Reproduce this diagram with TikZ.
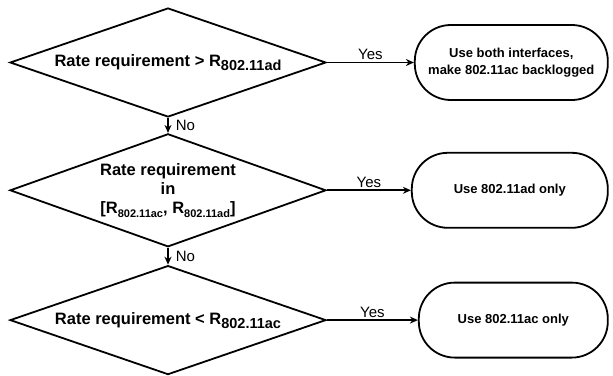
\documentclass[tikz,border=0pt]{standalone}
\usepackage{fontspec}
\setmainfont{Liberation Sans}
\usetikzlibrary{shapes.geometric,arrows.meta,positioning}

\newcommand{\rsub}[2][14.5]{R\raisebox{-4pt}{\fontsize{#1}{#1}\selectfont #2}}

\begin{document}
\begin{tikzpicture} [
        x = 1pt, y = 1pt,
        line width = 1.8pt,
        > = {Stealth[length = 8pt, width = 7pt]},
        decision/.style = { draw, diamond, aspect = 2.9, inner sep = 0, minimum width = 316pt, minimum height = 109pt, align = center, font = \fontsize{16.5}{19}\selectfont\bfseries },
        outcome/.style = { draw, rounded corners = 36pt, minimum width = 193pt, minimum height = 75pt, align = center, font = \fontsize{13}{17}\selectfont\bfseries },
        answer/.style = { font = \fontsize{15}{15}\selectfont, inner sep = 2pt }
        ]
        \useasboundingbox (0,0) rectangle (613,-375);
        
        \node [decision] (rate1) at (168,-62.5) {Rate requirement > \rsub{802.11ad}};
        \node [decision, minimum height = 113pt, below = 15pt of rate1] (rate2) {Rate requirement\\ in\\ {[}\rsub[11]{802.11ac}, \rsub[11]{802.11ad}{]}};
        \node [decision, below = 17pt of rate2] (rate3) {Rate requirement < \rsub{802.11ac}};
        
        \node [outcome, right = 87pt of rate1] (both) {Use both interfaces,\\ make 802.11ac backlogged};
        \node [outcome, minimum width = 196pt, right = 84pt of rate2] (adonly) {Use 802.11ad only};
        \node [outcome, minimum width = 189pt, right = 91pt of rate3] (aconly) {Use 802.11ac only};
        
        \draw [->] (rate1.south) -- node [answer, right = 5pt] {No} (rate2.north);
        \draw [->] (rate2.south) -- node [answer, right = 5pt] {No} (rate3.north);
        \draw [->] (rate1.east) -- node [answer, above] {Yes} (both.west);
        \draw [->] (rate2.east) -- node [answer, above] {Yes} (adonly.west);
        \draw [->] (rate3.east) -- node [answer, above] {Yes} (aconly.west);
    \end{tikzpicture}
\end{document}
